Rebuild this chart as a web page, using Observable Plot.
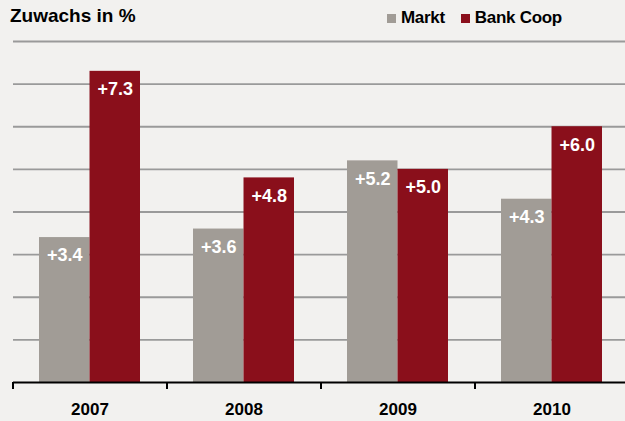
<!DOCTYPE html>
<html><head><meta charset="utf-8">
<script src="https://cdn.jsdelivr.net/npm/d3@7"></script>
<script src="https://cdn.jsdelivr.net/npm/@observablehq/plot@0.6"></script>
<style>
body{margin:0;background:#f2f1ef;width:625px;height:421px;overflow:hidden;font-family:"Liberation Sans",Arial,sans-serif;}
#head{position:relative;height:32px;}
#title{position:absolute;left:10px;top:5px;font-weight:bold;font-size:19px;letter-spacing:0px;color:#000;}
#legend{position:absolute;left:387px;top:8px;font-size:17px;font-weight:bold;letter-spacing:-0.3px;display:flex;align-items:center;color:#000;}
#legend span.sw{display:inline-block;width:9px;height:9px;margin-right:5px;}
#legend span.it{display:flex;align-items:center;margin-right:16px;}
#chart svg{display:block;}
</style></head><body>
<div id="head"><div id="title">Zuwachs in %</div><div id="legend"></div></div>
<div id="chart"></div>
<script>
const years = ["2007", "2008", "2009", "2010"];
const series = ["Markt", "Bank Coop"];
const markt = [3.4, 3.6, 5.2, 4.3];
const bankCoop = [7.3, 4.8, 5.0, 6.0];
const colors = ["#a19c96", "#8a0f1b"];
const yGrid = [1, 2, 3, 4, 5, 6, 7, 8];

const rows = [];
years.forEach((y, i) => {
  rows.push({year: y, series: series[0], value: markt[i]});
  rows.push({year: y, series: series[1], value: bankCoop[i]});
});

const legend = document.getElementById("legend");
series.forEach((s, i) => {
  const it = document.createElement("span"); it.className = "it";
  const sw = document.createElement("span"); sw.className = "sw"; sw.style.background = colors[i];
  it.appendChild(sw); it.appendChild(document.createTextNode(s));
  legend.appendChild(it);
});

const xRange = [13, 629];
const padIn = 0.344, padOut = 0.172;
const step = (xRange[1] - xRange[0]) / years.length;
const bw = step * (1 - padIn);
const left = rows.filter(d => d.series === series[0]);
const right = rows.filter(d => d.series === series[1]);
const fmt = d => "+" + d.value.toFixed(1);

const plot = Plot.plot({
  width: 625, height: 389,
  marginLeft: 13, marginRight: 0, marginTop: 9, marginBottom: 39,
  style: {background: "transparent", fontFamily: "Liberation Sans, Arial, sans-serif"},
  x: {type: "band", domain: years, range: xRange, paddingInner: padIn, paddingOuter: padOut, align: 0.5, label: null},
  y: {domain: [0, 8], axis: null, label: null},
  color: {domain: series, range: colors},
  marks: [
    Plot.ruleY(yGrid, {stroke: "#9a9a9a", strokeWidth: 1.8}),
    Plot.barY(left, {x: "year", y: "value", fill: "series", insetRight: bw / 2, insetLeft: 0}),
    Plot.barY(right, {x: "year", y: "value", fill: "series", insetLeft: bw / 2, insetRight: 0}),
    Plot.text(left, {x: "year", y: "value", text: fmt, dx: -bw / 4, dy: 18, fill: "white", fontSize: 18, fontWeight: "bold"}),
    Plot.text(right, {x: "year", y: "value", text: fmt, dx: bw / 4, dy: 18, fill: "white", fontSize: 18, fontWeight: "bold"}),
    Plot.ruleY([0], {stroke: "black", strokeWidth: 2}),
    Plot.axisX({tickSize: 7, dx: -step / 2, tickFormat: () => "", stroke: "black", strokeWidth: 2, label: null}),
    Plot.axisX({tickSize: 0, tickPadding: 20, fontSize: 17, fontWeight: "bold", fill: "black", label: null})
  ]
});
document.getElementById("chart").appendChild(plot);
</script>
</body></html>
